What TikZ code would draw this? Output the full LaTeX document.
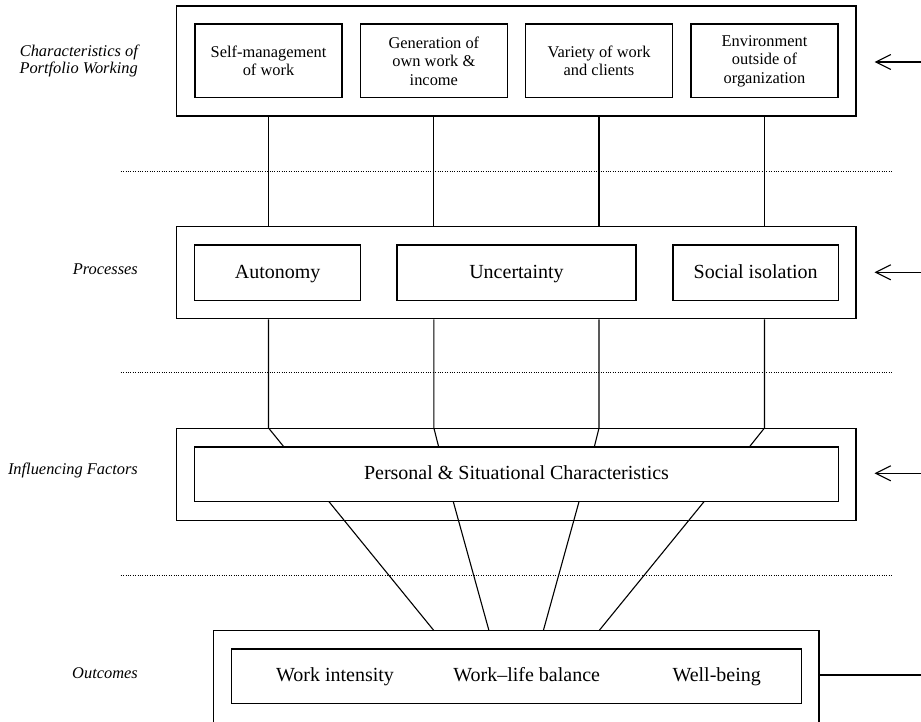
\documentclass[tikz,border=0pt]{standalone}
\usepackage{fontspec}
\setmainfont{Liberation Serif}
\usetikzlibrary{arrows.meta}

\begin{document}
\begin{tikzpicture}[x=1pt, y=-1pt, line width=1.1pt,
    frame/.style={draw, inner sep=0pt},
    charbox/.style={draw, inner sep=0pt, align=center, minimum width=147pt, minimum height=73.7pt,
      font=\fontsize{16.4}{18.5}\selectfont},
    procbox/.style={draw, inner sep=0pt, minimum height=55.3pt, text height=15pt, text depth=4pt,
      font=\fontsize{20}{24}\selectfont},
    result/.style={inner sep=0pt, text height=15pt, text depth=4pt, font=\fontsize{20}{24}\selectfont},
    level/.style={anchor=east, align=right, font=\fontsize{16.4}{17.5}\selectfont\itshape},
    divider/.style={line width=0.9pt, dash pattern=on 1pt off 1.4pt},
    feed/.style={-{Straight Barb[length=15pt, width=15pt, line width=1.1pt]}}]
      \clip (0, 0) rectangle (921, 721);
      % Draw the frames
      \node[frame, minimum width=679.3pt, minimum height=110pt] (top) at (516.35, 61) {};
      \node[frame, minimum width=679.3pt, minimum height=92pt] (proc) at (516.35, 272.7) {};
      \node[frame, minimum width=679.3pt, minimum height=92pt] (infl) at (516.35, 474.5) {};
      \node[frame, minimum width=605.7pt, minimum height=114.3pt] (outc) at (516.15, 687.85) {};
      % Draw the characteristics
      \node[charbox] (c1) at (268.5, 60.85) {Self-management\\of work};
      \node[charbox] (c2) at (433.85, 60.85) {Generation of\\own work \&\\income};
      \node[charbox] (c3) at (599, 60.85) {Variety of work\\and clients};
      \node[charbox] (c4) at (764.5, 60.85) {Environment\\outside of\\organization};
      % Draw the processes
      \node[procbox, minimum width=166pt] (auto) at (277.7, 272.65) {Autonomy};
      \node[procbox, minimum width=239pt] (unce) at (516.5, 272.65) {Uncertainty};
      \node[procbox, minimum width=165.3pt] (soci) at (755.65, 272.65) {Social isolation};
      \node[procbox, minimum width=643.6pt, minimum height=54.7pt] (pers) at (516.5, 474.35)
        {Personal \& Situational Characteristics};
      \node[procbox, minimum width=570pt, minimum height=54.7pt] (res) at (516.3, 676.35) {};
      \node[result] (wi) at (335, 676.35) {Work intensity};
      \node[result] (wl) at (526.7, 676.35) {Work--life balance};
      \node[result] (wb) at (716.7, 676.35) {Well-being};
      % Draw the level names
      \node[level] (l1) at (141.7, 61) {Characteristics of\\Portfolio Working};
      \node[level] (l2) at (141.7, 269.5) {Processes};
      \node[level] (l3) at (141.7, 470) {Influencing Factors};
      \node[level] (l4) at (141.7, 672.7) {Outcomes};
      % Draw the dividers
      \draw[divider] (120.7, 171) -- (891.7, 171);
      \draw[divider] (120.7, 372.3) -- (891.7, 372.3);
      \draw[divider] (120.7, 575) -- (891.7, 575);
      % Draw the links
      \foreach \n/\x in {1/284, 2/438.7, 3/594.3, 4/749.3}
        \coordinate (pin\n) at (\x, 447);
      \foreach \n/\x/\y in {1/329/434, 2/453.3/489, 3/579/543.3, 4/704/599} {
        \coordinate (pout\n) at (\x, 501.7);
        \coordinate (oin\n) at (\y, 630.7);
      }
      \foreach \n in {1,...,4} {
        \draw (c\n |- top.south) -- (c\n |- proc.north);
        \draw (c\n |- proc.south) -- (c\n |- infl.north) -- (pin\n);
        \draw (pout\n) -- (oin\n);
      }
      % Draw the feedback arrows
      \coordinate (e1) at (921, 62);
      \coordinate (e2) at (921, 272.3);
      \coordinate (e3) at (921, 473.3);
      \coordinate (e4) at (921, 675);
      \draw[feed] (e1) -- ([xshift=18pt]top.east |- e1);
      \draw[feed] (e2) -- ([xshift=18pt]proc.east |- e2);
      \draw[feed] (e3) -- ([xshift=18pt]infl.east |- e3);
      \draw (outc.east |- e4) -- (e4);
\end{tikzpicture}
\end{document}
